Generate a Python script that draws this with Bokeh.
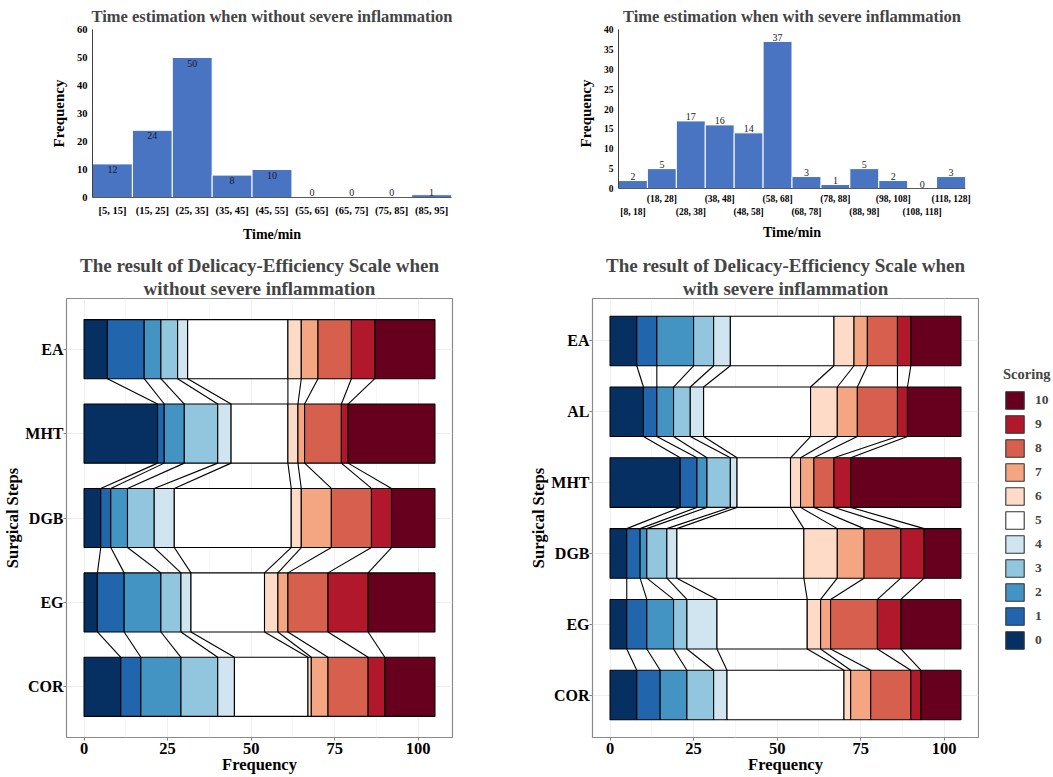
from bokeh.plotting import figure
from bokeh.layouts import column, row
from bokeh.models import (Range1d, FactorRange, FixedTicker, CategoricalAxis, LinearAxis,
                          Title, Legend, LegendItem, Span)
from bokeh.embed import file_html
from bokeh.resources import INLINE
import numpy as np

SERIF = "Liberation Serif"

# ---------------- histogram data ----------------
bins_without = ["[5, 15]", "(15, 25]", "(25, 35]", "(35, 45]", "(45, 55]",
                "(55, 65]", "(65, 75]", "(75, 85]", "(85, 95]"]
freq_without = [12, 24, 50, 8, 10, 0, 0, 0, 1]

bins_with = ["[8, 18]", "(18, 28]", "(28, 38]", "(38, 48]", "(48, 58]", "(58, 68]",
             "(68, 78]", "(78, 88]", "(88, 98]", "(98, 108]", "(108, 118]", "(118, 128]"]
freq_with = [2, 5, 17, 16, 14, 37, 3, 1, 5, 2, 0, 3]

# ---------------- scale data (counts of score 0..10) ----------------
scores = ["0", "1", "2", "3", "4", "5", "6", "7", "8", "9", "10"]
palette = ["#053061", "#2166ac", "#4393c3", "#92c5de", "#d1e5f0", "#ffffff",
           "#fddbc7", "#f4a582", "#d6604d", "#b2182b", "#67001f"]

steps_without = ["EA", "MHT", "DGB", "EG", "COR"]
no_ea = [7, 11, 5, 5, 3, 30, 4, 5, 10, 7, 18]
no_mht = [22, 2, 6, 10, 4, 17, 3, 2, 11, 2, 26]
no_dgb = [5, 3, 5, 8, 6, 35, 3, 9, 12, 6, 13]
no_eg = [4, 8, 11, 6, 3, 22, 4, 3, 12, 12, 20]
no_cor = [11, 6, 12, 11, 5, 22, 1, 5, 12, 5, 15]

steps_with = ["EA", "AL", "MHT", "DGB", "EG", "COR"]
sv_ea = [8, 6, 11, 6, 5, 31, 6, 4, 9, 4, 15]
sv_al = [10, 4, 5, 5, 4, 32, 8, 6, 12, 3, 16]
sv_mht = [21, 5, 3, 7, 2, 16, 3, 4, 6, 5, 33]
sv_dgb = [5, 4, 2, 6, 3, 38, 10, 8, 11, 7, 11]
sv_eg = [5, 6, 8, 4, 9, 27, 4, 3, 14, 7, 18]
sv_cor = [8, 7, 8, 8, 4, 35, 2, 6, 12, 3, 12]

freq_ticks = [0, 25, 50, 75, 100]

BAR_BLUE = "#4874c2"
LABEL_C = "#1a1a2e"


def style_x(ax, fs_tick):
    ax.axis_line_color = None
    ax.major_tick_line_color = None
    ax.minor_tick_line_color = None
    ax.major_tick_out = 0
    ax.minor_tick_out = 0
    ax.major_label_text_font = SERIF
    ax.major_label_text_font_style = "bold"
    ax.major_label_text_font_size = fs_tick
    ax.major_label_text_color = "black"
    ax.axis_label_text_font = SERIF
    ax.axis_label_text_font_style = "bold"
    ax.axis_label_text_font_size = "14px"
    ax.axis_label_text_color = "black"


def style_y(p, ymax, ystep, fs_tick):
    p.yaxis.ticker = FixedTicker(ticks=list(range(0, ymax + 1, ystep)))
    p.yaxis.bounds = (0, ymax)
    p.yaxis.major_tick_line_color = None
    p.yaxis.minor_tick_line_color = None
    p.yaxis.major_tick_out = 0
    p.yaxis.minor_tick_out = 0
    p.yaxis.axis_line_color = "#404040"
    p.yaxis.major_label_text_font = SERIF
    p.yaxis.major_label_text_font_style = "bold"
    p.yaxis.major_label_text_font_size = fs_tick
    p.yaxis.major_label_text_color = "black"
    p.yaxis.major_label_standoff = 5
    p.yaxis.axis_label = "Frequency"
    p.yaxis.axis_label_text_font = SERIF
    p.yaxis.axis_label_text_font_style = "bold"
    p.yaxis.axis_label_text_font_size = "15px"
    p.yaxis.axis_label_text_color = "black"
    p.yaxis.axis_label_standoff = 7


def base_fig(w, h, xr, yr, bl, br, bt, bb, title):
    p = figure(width=w, height=h, x_range=xr, y_range=yr,
               output_backend="svg", toolbar_location=None,
               min_border_left=bl, min_border_right=br, min_border_top=bt, min_border_bottom=bb,
               x_axis_location=None)
    p.outline_line_color = None
    p.xgrid.grid_line_color = None
    p.ygrid.grid_line_color = None
    p.add_layout(Title(text=title, text_font=SERIF, text_font_size="16.5px",
                       text_font_style="bold", align="center", standoff=8), "above")
    return p


def hist_without(w, h, bl, br, bt, bb):
    bins, freq = bins_without, freq_without
    ymax = 60
    p = base_fig(w, h, FactorRange(*bins), Range1d(0, ymax), bl, br, bt, bb,
                 "Time estimation when without severe inflammation")
    p.vbar(x=bins, top=freq, width=1.0, fill_color=BAR_BLUE, line_color="white", line_width=1)
    big = [i for i, v in enumerate(freq) if v >= 3]
    small = [i for i, v in enumerate(freq) if v < 3]
    p.text(x=[bins[i] for i in big], y=[freq[i] - ymax * 0.012 for i in big],
           text=[str(freq[i]) for i in big], text_align="center", text_baseline="top",
           text_font=SERIF, text_font_size="10px", text_color=LABEL_C)
    p.text(x=[bins[i] for i in small], y=[ymax * 0.006 for i in small],
           text=[str(freq[i]) for i in small], text_align="center", text_baseline="bottom",
           text_font=SERIF, text_font_size="10px", text_color=LABEL_C)
    style_y(p, ymax, 10, "10.5px")
    ax = CategoricalAxis()
    style_x(ax, "10.5px")
    ax.axis_line_color = "#595959"
    ax.major_label_standoff = 7
    ax.axis_label = "Time/min"
    ax.axis_label_standoff = 8
    p.add_layout(ax, "below")
    return p


def hist_with(w, h, bl, br, bt, bb):
    bins, freq = bins_with, freq_with
    ymax = 40
    nb = len(bins)
    xs = list(range(nb))
    p = base_fig(w, h, Range1d(-0.5, nb - 0.5), Range1d(-ymax * 9 / 159, ymax), bl, br, bt, bb,
                 "Time estimation when with severe inflammation")
    p.vbar(x=xs, top=freq, width=1.0, fill_color=BAR_BLUE, line_color="white", line_width=1)
    p.add_layout(Span(location=0, dimension="width", line_color="#595959", line_width=1))
    p.text(x=xs, y=[v + ymax * 0.004 for v in freq], text=[str(v) for v in freq],
           text_align="center", text_baseline="bottom",
           text_font=SERIF, text_font_size="10px", text_color=LABEL_C)
    style_y(p, ymax, 5, "9.5px")
    odd = [i for i in xs if i % 2 == 1]
    even = [i for i in xs if i % 2 == 0]
    ax1 = LinearAxis(ticker=FixedTicker(ticks=odd),
                     major_label_overrides={i: bins[i] for i in odd})
    style_x(ax1, "9.5px")
    ax1.major_label_standoff = -4
    p.add_layout(ax1, "below")
    ax2 = LinearAxis(ticker=FixedTicker(ticks=even),
                     major_label_overrides={i: bins[i] for i in even})
    style_x(ax2, "9.5px")
    ax2.major_label_standoff = 0
    ax2.axis_label = "Time/min"
    ax2.axis_label_standoff = 5
    p.add_layout(ax2, "below")
    return p


def scale_plot(steps, counts, title1, title2, w, h, bl, br, bt, bb):
    n = len(steps)
    p = figure(width=w, height=h, x_range=Range1d(-5.25, 110.25), y_range=Range1d(0.4, n + 0.6),
               output_backend="svg", toolbar_location=None,
               min_border_left=bl, min_border_right=br, min_border_top=bt, min_border_bottom=bb)
    p.add_layout(Title(text=title2, text_font=SERIF, text_font_size="19px",
                       text_font_style="bold", align="center", standoff=0), "above")
    p.add_layout(Title(text=title1, text_font=SERIF, text_font_size="19px",
                       text_font_style="bold", align="center", standoff=0), "above")
    p.outline_line_color = "#8a8a8a"
    p.outline_line_width = 1.2
    p.background_fill_color = "white"
    p.xgrid.grid_line_color = "#efefef"
    p.xgrid.minor_grid_line_color = "#f6f6f6"
    p.ygrid.grid_line_color = "#efefef"
    p.xaxis.ticker = FixedTicker(ticks=freq_ticks, minor_ticks=[12.5, 37.5, 62.5, 87.5])
    ys = [n - i for i in range(n)]
    p.yaxis.ticker = FixedTicker(ticks=ys)
    p.yaxis.major_label_overrides = {n - i: s for i, s in enumerate(steps)}

    mat = np.array(counts, dtype=float)
    cum = np.cumsum(mat, axis=1)
    left = cum - mat
    for k in range(len(scores)):
        p.hbar(y=ys, left=left[:, k], right=cum[:, k], height=0.7,
               fill_color=palette[k], line_color="black", line_width=1.1)
    x0, y0, x1, y1 = [], [], [], []
    for i in range(n - 1):
        for k in range(len(scores) - 1):
            x0.append(cum[i, k]); y0.append(ys[i] - 0.35)
            x1.append(cum[i + 1, k]); y1.append(ys[i + 1] + 0.35)
    p.segment(x0=x0, y0=y0, x1=x1, y1=y1, line_color="black", line_width=1.1)

    for ax in (p.xaxis[0], p.yaxis[0]):
        ax.axis_line_color = None
        ax.major_tick_line_color = "#7f7f7f"
        ax.major_tick_out = 3
        ax.major_tick_in = 0
        ax.minor_tick_line_color = None
        ax.minor_tick_out = 0
        ax.major_label_text_font = SERIF
        ax.major_label_text_font_style = "bold"
        ax.major_label_text_font_size = "16.5px"
        ax.major_label_text_color = "black"
        ax.axis_label_text_font = SERIF
        ax.axis_label_text_font_style = "bold"
        ax.axis_label_text_font_size = "16.5px"
        ax.axis_label_text_color = "black"
    p.xaxis.major_label_standoff = 2
    p.xaxis.axis_label = "Frequency"
    p.xaxis.axis_label_standoff = -2
    p.yaxis.major_label_text_font_size = "16px"
    p.yaxis.major_label_standoff = 0
    p.yaxis.axis_label = "Surgical Steps"
    p.yaxis.axis_label_standoff = 0
    return p


def legend_fig(w, h, bt, bb):
    p = figure(width=w, height=h, x_range=Range1d(0, 1), y_range=Range1d(0, 1),
               output_backend="svg", toolbar_location=None,
               min_border_left=0, min_border_right=0, min_border_top=bt, min_border_bottom=bb,
               x_axis_location=None, y_axis_location=None)
    p.outline_line_color = None
    p.xgrid.grid_line_color = None
    p.ygrid.grid_line_color = None
    rs = []
    for k in range(len(scores)):
        # swatch renderers only (placed outside the visible range)
        rs.append(p.hbar(y=[5], left=[5], right=[6], height=0.7,
                         fill_color=palette[k], line_color="#333333", line_width=1.1))
    items = [LegendItem(label=scores[k], renderers=[rs[k]])
             for k in range(len(scores) - 1, -1, -1)]
    lg = Legend(items=items, title="Scoring", location=(24, 86),
                glyph_width=23, glyph_height=22, label_height=22, spacing=2,
                padding=0, margin=0, label_standoff=9,
                border_line_color=None, background_fill_alpha=0,
                label_text_font=SERIF, label_text_font_style="bold",
                label_text_font_size="13.5px",
                title_text_font=SERIF, title_text_font_style="bold",
                title_text_font_size="14.5px", title_standoff=6)
    p.add_layout(lg)
    return p


TOP_H = 246
BOT_H = 531

h1 = hist_without(525, TOP_H, 92, 74, 29, 49)
h2 = hist_with(528, TOP_H, 93, 88, 29, 49)

s1 = scale_plot(steps_without, [no_ea, no_mht, no_dgb, no_eg, no_cor],
                "The result of Delicacy-Efficiency Scale when", "without severe inflammation",
                525, BOT_H, 65, 73, 52, 40)
s2 = scale_plot(steps_with, [sv_ea, sv_al, sv_mht, sv_dgb, sv_eg, sv_cor],
                "The result of Delicacy-Efficiency Scale when", "with severe inflammation",
                454, BOT_H, 67, 1, 52, 40)
lf = legend_fig(74, BOT_H, 52, 40)

layout = column(row(h1, h2), row(s1, s2, lf))
open("out.html", "w").write(file_html(layout, INLINE))
